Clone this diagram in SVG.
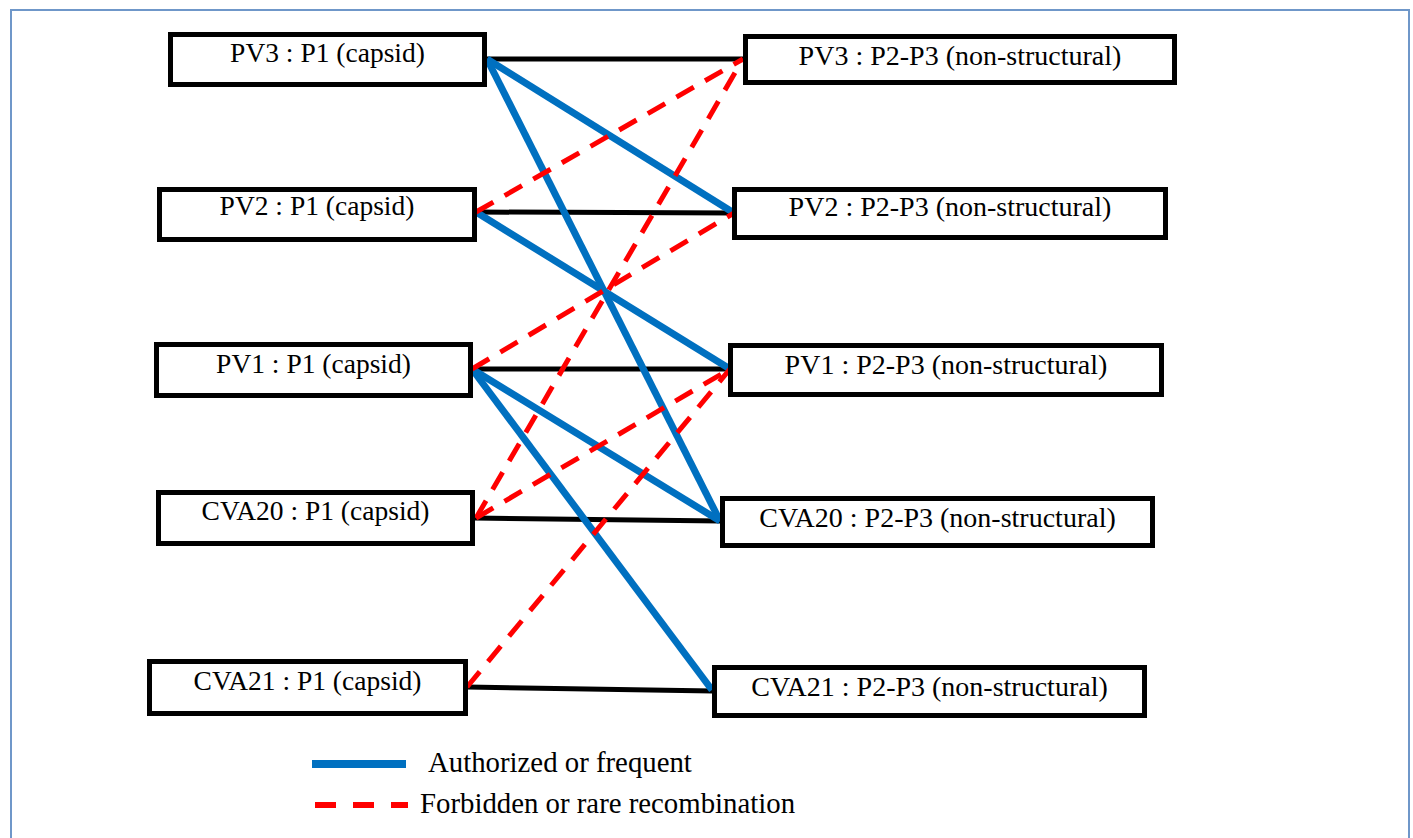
<svg xmlns="http://www.w3.org/2000/svg" width="1413" height="838" viewBox="0 0 1413 838">
<style>
.box{fill:#fff;stroke:#000;stroke-width:5}
.lbl{font-family:"Liberation Serif","Times New Roman",serif;font-size:27.5px;fill:#000;text-anchor:middle}
.lblr{font-family:"Liberation Serif","Times New Roman",serif;font-size:28px;fill:#000;text-anchor:middle}
.leg{font-family:"Liberation Serif","Times New Roman",serif;font-size:28.8px;fill:#000}
.blk{stroke:#000;stroke-width:5;fill:none}
.blu{stroke:#0070c0;stroke-width:7;fill:none}
.red{stroke:#ff0000;stroke-width:5;fill:none;stroke-dasharray:20 13}
</style>
<rect x="0" y="0" width="1413" height="838" fill="#fff"/>
<rect x="11" y="10" width="1398" height="840" fill="none" stroke="#6f97c9" stroke-width="2"/>
<g id="connectors">
<line class="blk" x1="487" y1="59" x2="743" y2="59"/>
<line class="blk" x1="476" y1="212" x2="734" y2="213"/>
<line class="blk" x1="472" y1="369" x2="730" y2="369"/>
<line class="blk" x1="474" y1="518" x2="721" y2="521"/>
<line class="blk" x1="467" y1="687" x2="713" y2="691"/>
<line class="blu" x1="487" y1="59" x2="734" y2="213"/>
<line class="blu" x1="487" y1="59" x2="720" y2="521"/>
<line class="blu" x1="476" y1="212" x2="730" y2="369"/>
<line class="blu" x1="472" y1="369" x2="720" y2="521"/>
<line class="blu" x1="472" y1="369" x2="712" y2="690"/>
<line class="red" x1="476" y1="212" x2="743" y2="59"/>
<line class="red" x1="476" y1="518" x2="743" y2="59"/>
<line class="red" x1="472" y1="369" x2="734" y2="213"/>
<line class="red" x1="476" y1="518" x2="730" y2="369"/>
<line class="red" x1="467" y1="687" x2="730" y2="369"/>
</g>
<g id="pv3-p1"><rect class="box" x="170.5" y="34.5" width="314" height="50"/><text class="lbl" x="327.5" y="62">PV3 : P1 (capsid)</text></g>
<g id="pv2-p1"><rect class="box" x="159.5" y="189.5" width="315" height="50"/><text class="lbl" x="317" y="215">PV2 : P1 (capsid)</text></g>
<g id="pv1-p1"><rect class="box" x="156.5" y="344.5" width="314" height="51"/><text class="lbl" x="313.5" y="373">PV1 : P1 (capsid)</text></g>
<g id="cva20-p1"><rect class="box" x="158.5" y="492.5" width="314" height="51"/><text class="lbl" x="315.5" y="520">CVA20 : P1 (capsid)</text></g>
<g id="cva21-p1"><rect class="box" x="149.5" y="661.5" width="316" height="52"/><text class="lbl" x="307.5" y="690">CVA21 : P1 (capsid)</text></g>
<g id="pv3-p23"><rect class="box" x="745.5" y="36.5" width="429" height="46"/><text class="lblr" x="960" y="65">PV3 : P2-P3 (non-structural)</text></g>
<g id="pv2-p23"><rect class="box" x="734.5" y="189.5" width="431" height="48"/><text class="lblr" x="950" y="216">PV2 : P2-P3 (non-structural)</text></g>
<g id="pv1-p23"><rect class="box" x="730.5" y="345.5" width="431" height="49"/><text class="lblr" x="946" y="374">PV1 : P2-P3 (non-structural)</text></g>
<g id="cva20-p23"><rect class="box" x="722.5" y="498.5" width="430" height="47"/><text class="lblr" x="937.5" y="527">CVA20 : P2-P3 (non-structural)</text></g>
<g id="cva21-p23"><rect class="box" x="714.5" y="667.5" width="430" height="48"/><text class="lblr" x="929.5" y="696">CVA21 : P2-P3 (non-structural)</text></g>
<g id="legend">
<line x1="312" y1="764" x2="406" y2="764" stroke="#0070c0" stroke-width="8"/>
<text class="leg" x="428" y="772">Authorized or frequent</text>
<line x1="315" y1="805" x2="408" y2="805" stroke="#ff0000" stroke-width="6" stroke-dasharray="21 17"/>
<text class="leg" x="420" y="813">Forbidden or rare recombination</text>
</g>
</svg>
